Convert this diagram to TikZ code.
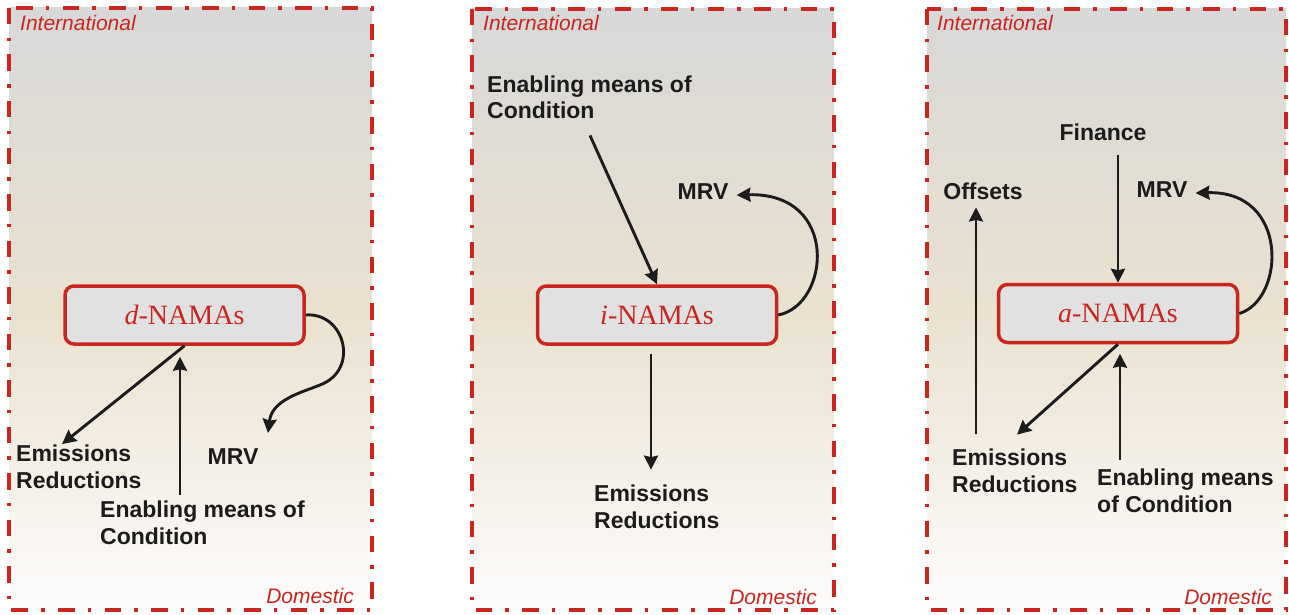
\documentclass[tikz,border=0pt]{standalone}
\usepackage{fontspec}
\setmainfont{Liberation Sans}
\newfontfamily\boxfont{Liberation Serif}
\usetikzlibrary{arrows.meta,calc}
\definecolor{nred}{RGB}{200,38,30}
\definecolor{ink}{RGB}{28,28,28}
\definecolor{topgray}{RGB}{216,216,216}
\definecolor{midbeige}{RGB}{234,225,207}
\definecolor{botwhite}{RGB}{253,252,252}
\definecolor{boxfill}{RGB}{225,225,225}
\begin{document}
\begin{tikzpicture}[x=1pt,y=-1pt,
  panelbg/.style={top color=topgray, bottom color=botwhite, middle color=midbeige},
  panel/.style={draw=nred, line width=3.8pt, dash pattern=on 16.5pt off 13.3pt on 3.4pt off 13.3pt},
  namabox/.style={draw=nred, fill=boxfill, line width=3.5pt, rounded corners=9pt, minimum width=239pt, minimum height=58pt, inner sep=0pt, text=nred, font=\boxfont\fontsize{28}{30}\selectfont},
  lab/.style={font=\bfseries\fontsize{23}{27}\selectfont, text=ink, inner sep=0pt, align=left},
  zone/.style={font=\itshape\fontsize{21}{24}\selectfont, text=nred, inner sep=0pt},
  arr/.style={draw=ink, line width=2.9pt, -{Stealth[length=14pt,width=14pt,inset=1.5pt]}}
]
\useasboundingbox (0,0) rectangle (1289,615);
% panels
\shade[panelbg] (9,8) rectangle (372,610);
\draw[panel] (9,8) rectangle (372,610);
\shade[panelbg] (472,9) rectangle (834,610);
\draw[panel] (472,9) rectangle (834,610);
\shade[panelbg] (927,9) rectangle (1286,610);
\draw[panel] (927,9) rectangle (1286,610);
% zone labels
\node[zone, anchor=base west] (int1) at (20,31) {International};
\node[zone, anchor=base east] (dom1) at (354,603) {Domestic};
\node[zone, anchor=base west] (int2) at (483,31) {International};
\node[zone, anchor=base east] (dom2) at (817,604) {Domestic};
\node[zone, anchor=base west] (int3) at (937,31) {International};
\node[zone, anchor=base east] (dom3) at (1272,604) {Domestic};
% panel 1
\node[namabox] (dbox) at (184.5,315) {\textit{d}-NAMAs};
\node[lab, anchor=base west] (er1) at (16,488) {Emissions\\Reductions};
\node[lab, anchor=base west] (en1) at (100,544) {Enabling means of\\Condition};
\node[lab, anchor=base] (mrv1) at (233,464) {MRV};
\draw[arr] (dbox.south) -- ($(er1.north west)+(46,0)$);
\draw[arr] ($(en1.north west)+(80,-5)$) -- ($(dbox.south)+(-4.5,11)$);
\draw[arr] (dbox.east) .. controls (345,312) and (360,370) .. (320,385)
  .. controls (300,393) and (272,400) .. ($(mrv1.north)+(35,-15)$);
% panel 2
\node[namabox] (ibox) at (657,315) {\textit{i}-NAMAs};
\node[lab, anchor=base west] (en2) at (487,119) {Enabling means of\\Condition};
\node[lab, anchor=base] (mrv2) at (703,199) {MRV};
\node[lab, anchor=base west] (er2) at (594,528) {Emissions\\Reductions};
\draw[arr] ($(en2.south west)+(103,16)$) -- (ibox.north);
\draw[arr] (ibox.east) .. controls (830,305) and (840,192) .. ($(mrv2.east)+(8,4)$);
\draw[arr] ($(ibox.south)+(-6,8)$) -- ($(er2.north west)+(57,-14.5)$);
% panel 3
\node[namabox] (abox) at (1118,313.5) {\textit{a}-NAMAs};
\node[lab, anchor=base] (fin) at (1103,140) {Finance};
\node[lab, anchor=base] (mrv3) at (1162,197) {MRV};
\node[lab, anchor=base] (off) at (983,199) {Offsets};
\node[lab, anchor=base west] (er3) at (952,492) {Emissions\\Reductions};
\node[lab, anchor=base west] (en3) at (1097,512) {Enabling means\\of Condition};
\draw[arr] ($(fin.south)+(15,15)$) -- (abox.north);
\draw[arr] (abox.east) .. controls (1285,300) and (1290,190) .. ($(mrv3.east)+(8,4)$);
\draw[arr] ($(er3.north west)+(24,-14)$) -- ($(off.south)+(-7,8)$);
\draw[arr] (abox.south) -- ($(er3.north west)+(65,-13.5)$);
\draw[arr] ($(en3.north west)+(23,-8.5)$) -- ($(abox.south)+(2,9.5)$);
\end{tikzpicture}
\end{document}
